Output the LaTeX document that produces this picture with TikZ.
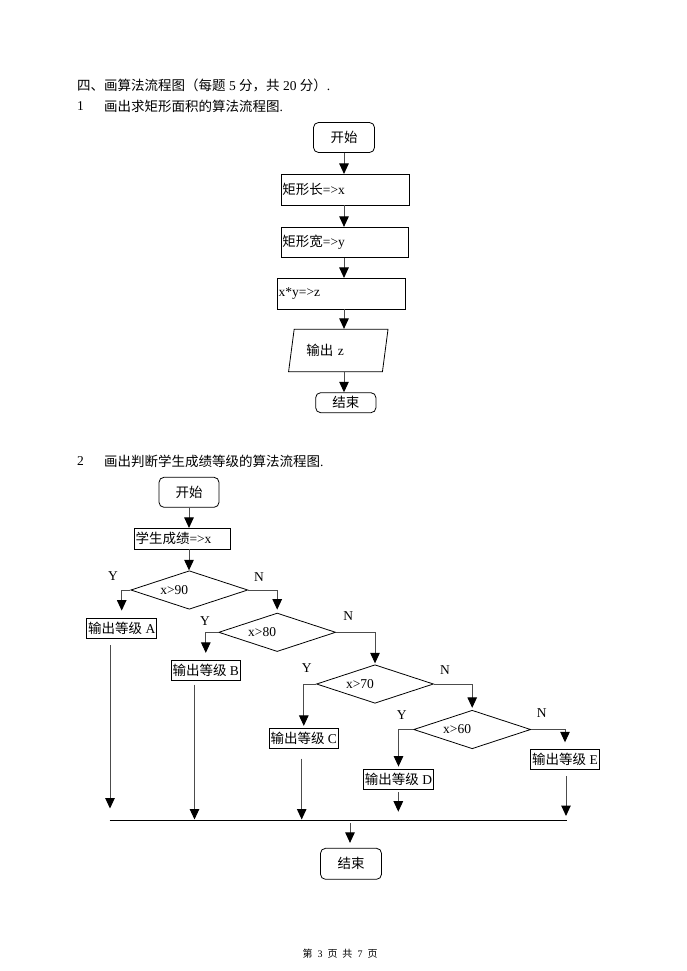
\documentclass[tikz,border=0pt]{standalone}
\usepackage{fontspec}
\setmainfont{Liberation Serif}
\newfontfamily\cjk{Noto Sans CJK SC}
\usetikzlibrary{shapes.geometric,arrows.meta}
\newcommand{\zw}[1]{{\cjk #1}}

\tikzset{
  every node/.style={font=\fontsize{13.5}{16}\selectfont, inner sep=0pt},
  termbox/.style={draw, rounded corners=5pt, line width=0.8pt},
  procbox/.style={draw, line width=0.8pt, align=left, inner xsep=1pt},
  iobox/.style={draw, trapezium, trapezium left angle=72, trapezium right angle=108,
    trapezium stretches=true, line width=0.8pt, align=left},
  decide/.style={draw, diamond, aspect=3, line width=0.8pt, align=left, text width=58pt,
    minimum width=117pt, minimum height=38.5pt},
  outbox/.style={draw, line width=0.8pt, inner xsep=1.5pt, minimum height=20pt},
  flow/.style={draw=black!70, line width=1pt, -{Triangle[length=10.5pt,width=9.5pt,color=black]}},
}

\begin{document}
\begin{tikzpicture}[x=1pt, y=-1pt]
  \useasboundingbox (0,0) rectangle (687,971);

  % headings
  \node[anchor=west] (hd1) at (77,85) {\zw{四、画算法流程图（每题} 5 \zw{分，共} 20 \zw{分）}.};
  \node[anchor=west] (hd2n) at (77,106) {1};
  \node[anchor=west] (hd2) at (104,106) {\zw{画出求矩形面积的算法流程图}.};

  % flow chart 1
  \node[termbox, minimum width=61pt, minimum height=30pt] (st1) at (344,137.5) {\zw{开始}};
  \node[procbox, text width=125.5pt, minimum height=30.7pt] (b1) at (345.2,189.7) {\zw{矩形长}=>x};
  \node[procbox, text width=125pt, minimum height=30.4pt] (b2) at (344.9,242.5) {\zw{矩形宽}=>y};
  \node[procbox, text width=125.6pt, minimum height=30.7pt] (b3) at (341.5,293.7) {x*y=>z};
  \node[iobox, text width=64pt, minimum width=100pt, minimum height=42.4pt] (io) at (338.3,350.5) {\zw{输出} z};
  \node[termbox, minimum width=60.3pt, minimum height=20pt] (ed1) at (345.8,402.7) {\zw{结束}};

  \draw[flow] (st1.south) -- (st1.south |- b1.north);
  \draw[flow] (st1.south |- b1.south) -- (st1.south |- b2.north);
  \draw[flow] (st1.south |- b2.south) -- (st1.south |- b3.north);
  \draw[flow] (st1.south |- b3.south) -- (st1.south |- io.north);
  \draw[flow] (st1.south |- io.south) -- (st1.south |- ed1.north);

  % flow chart 2
  \node[anchor=west] (hd3n) at (77,461) {2};
  \node[anchor=west] (hd3) at (104,461) {\zw{画出判断学生成绩等级的算法流程图}.};

  \node[termbox, minimum width=60pt, minimum height=30pt] (st2) at (189,492.3) {\zw{开始}};
  \node[procbox, text width=94pt, minimum height=20.7pt] (in2) at (182.5,538.7) {\zw{学生成绩}=>x};

  \node[decide] (d1) at (189.3,590) {x>90};
  \node[decide] (d2) at (277.2,632.3) {x>80};
  \node[decide] (d3) at (375,684) {x>70};
  \node[decide] (d4) at (472.2,729.5) {x>60};

  \node[outbox] (oa) at (121.7,628) {\zw{输出等级} A};
  \node[outbox] (ob) at (205.8,670.3) {\zw{输出等级} B};
  \node[outbox] (oc) at (303.8,738.3) {\zw{输出等级} C};
  \node[outbox] (od) at (398.5,779) {\zw{输出等级} D};
  \node[outbox] (oe) at (565,759.7) {\zw{输出等级} E};

  \node[termbox, minimum width=61pt, minimum height=31pt] (ed2) at (351,863.8) {\zw{结束}};

  % Y / N marks
  \node (y1) at (113,576) {Y};
  \node (n1) at (259,577) {N};
  \node (y2) at (205,620.7) {Y};
  \node (n2) at (348.3,615.7) {N};
  \node (y3) at (306.7,668.3) {Y};
  \node (n3) at (445,670) {N};
  \node (y4) at (401.7,715) {Y};
  \node (n4) at (541.7,713.3) {N};

  \draw[flow] (st2.south) -- (st2.south |- in2.north);
  \draw[flow] (st2.south |- in2.south) -- (st2.south |- d1.north);

  \draw[flow, shorten >=7pt] (d1.west) -| (oa.north);
  \draw[flow, shorten >=3pt] (d1.east) -| (d2.north);
  \draw[flow, shorten >=7pt] (d2.west) -| (ob.north);
  \draw[flow, shorten >=1pt] (d2.east) -| (d3.north);
  \draw[flow, shorten >=2pt] (d3.west) -| (oc.north);
  \draw[flow, shorten >=2pt] (d3.east) -| (d4.north);
  \draw[flow, shorten >=2pt] (d4.west) -| (od.north);
  \draw[flow, shorten >=7pt] (d4.east) -| (oe.north);

  % merge line
  \coordinate (mgl) at (109.5,820);
  \coordinate (mgr) at (566.5,820);
  \coordinate (mgc) at (350,820);
  \coordinate (jA) at (110,808.5);
  \coordinate (jB) at (194.5,819.5);
  \coordinate (jC) at (301.7,819.5);
  \coordinate (jD) at (398.3,811.7);
  \coordinate (jE) at (566,816);

  \draw[flow, shorten <=7pt] (jA |- oa.south) -- (jA);
  \draw[flow, shorten <=4pt] (jB |- ob.south) -- (jB);
  \draw[flow, shorten <=10pt] (jC |- oc.south) -- (jC);
  \draw[flow, shorten <=3pt] (jD |- od.south) -- (jD);
  \draw[flow, shorten <=6pt] (jE |- oe.south) -- (jE);
  \draw[line width=0.8pt] (mgl) -- (mgr);
  \draw[flow, shorten <=3pt, shorten >=5pt] (mgc) -- (mgc |- ed2.north);

  % footer
  \node[font=\fontsize{10}{12}\selectfont] (foot) at (340,954) {\zw{第}~~3~~\zw{页}~~\zw{共}~~7~~\zw{页}};
\end{tikzpicture}
\end{document}
